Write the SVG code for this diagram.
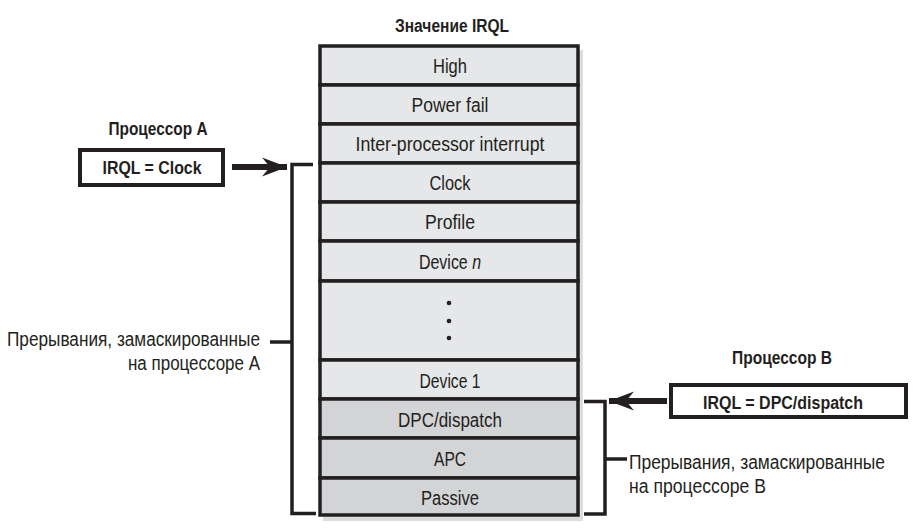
<svg xmlns="http://www.w3.org/2000/svg" width="916" height="529" viewBox="0 0 916 529">
<style>
text{font-family:"Liberation Sans",Arial,sans-serif;fill:#231f20}
.r{font-size:19.5px}
.b{font-size:18px;font-weight:bold}
.c{text-anchor:middle}
.lt{fill:#e6e7e8;stroke:#231f20;stroke-width:3.5}
.dk{fill:#d3d4d5;stroke:#231f20;stroke-width:3.5}
.box{fill:#fff;stroke:#231f20;stroke-width:4}
.br{fill:none;stroke:#231f20;stroke-width:3.5}
.ar{stroke:#231f20;stroke-width:6;fill:none}
</style>
<defs>
<marker id="ah" markerUnits="userSpaceOnUse" markerWidth="30" markerHeight="24" viewBox="-26 -12 30 24" refX="0" refY="0" orient="auto">
<path d="M0,0 L-25,-9.5 L-17,0 L-25,9.5 Z" fill="#231f20"/>
</marker>
</defs>
<text class="b c" x="452" y="32" textLength="114" lengthAdjust="spacingAndGlyphs">Значение IRQL</text>
<rect x="323" y="50" width="260" height="471" fill="#dcdddd"/>
<g id="row-high"><rect class="lt" x="320" y="46" width="258" height="39"/><text class="r c" x="450" y="73" textLength="34" lengthAdjust="spacingAndGlyphs">High</text></g>
<g id="row-powerfail"><rect class="lt" x="320" y="85" width="258" height="39"/><text class="r c" x="450" y="112" textLength="77" lengthAdjust="spacingAndGlyphs">Power fail</text></g>
<g id="row-ipi"><rect class="lt" x="320" y="124" width="258" height="39"/><text class="r c" x="450" y="151" textLength="189" lengthAdjust="spacingAndGlyphs">Inter-processor interrupt</text></g>
<g id="row-clock"><rect class="lt" x="320" y="163" width="258" height="39"/><text class="r c" x="450" y="190" textLength="41" lengthAdjust="spacingAndGlyphs">Clock</text></g>
<g id="row-profile"><rect class="lt" x="320" y="202" width="258" height="39"/><text class="r c" x="450" y="229" textLength="50" lengthAdjust="spacingAndGlyphs">Profile</text></g>
<g id="row-devicen"><rect class="lt" x="320" y="241" width="258" height="40"/><text class="r c" transform="translate(450,269) scale(0.82,1)">Device <tspan font-style="italic">n</tspan></text></g>
<g id="row-dots"><rect class="lt" x="320" y="281" width="258" height="79"/><circle cx="449" cy="303" r="2.3" fill="#231f20"/><circle cx="449" cy="321" r="2.3" fill="#231f20"/><circle cx="449" cy="338" r="2.3" fill="#231f20"/></g>
<g id="row-device1"><rect class="lt" x="320" y="360" width="258" height="39"/><text class="r c" x="450" y="388" textLength="61" lengthAdjust="spacingAndGlyphs">Device 1</text></g>
<g id="row-dpc"><rect class="dk" x="320" y="399" width="258" height="39"/><text class="r c" x="450" y="427" textLength="104" lengthAdjust="spacingAndGlyphs">DPC/dispatch</text></g>
<g id="row-apc"><rect class="dk" x="320" y="438" width="258" height="40"/><text class="r c" x="450" y="466" textLength="32" lengthAdjust="spacingAndGlyphs">APC</text></g>
<g id="row-passive"><rect class="dk" x="320" y="478" width="258" height="37"/><text class="r c" x="450" y="505" textLength="58" lengthAdjust="spacingAndGlyphs">Passive</text></g>
<g id="cpu-a">
<text class="b c" x="158" y="135" textLength="99" lengthAdjust="spacingAndGlyphs">Процессор A</text>
<rect class="box" x="80" y="150" width="143" height="35"/>
<text class="b c" x="152" y="174" textLength="99" lengthAdjust="spacingAndGlyphs">IRQL = Clock</text>
</g>
<g id="cpu-b">
<text class="b c" x="782" y="364" textLength="100" lengthAdjust="spacingAndGlyphs">Процессор B</text>
<rect class="box" x="671" y="385" width="235" height="32"/>
<text class="b c" x="783" y="409" textLength="160" lengthAdjust="spacingAndGlyphs">IRQL = DPC/dispatch</text>
</g>
<g id="label-a">
<text class="r" x="260" y="346" text-anchor="end" textLength="253" lengthAdjust="spacingAndGlyphs">Прерывания, замаскированные</text>
<text class="r" x="260" y="370" text-anchor="end" textLength="132" lengthAdjust="spacingAndGlyphs">на процессоре A</text>
</g>
<g id="label-b">
<text class="r" x="629" y="469" textLength="256" lengthAdjust="spacingAndGlyphs">Прерывания, замаскированные</text>
<text class="r" x="629" y="493" textLength="137" lengthAdjust="spacingAndGlyphs">на процессоре B</text>
</g>
<g id="connectors">
<line class="ar" x1="232" y1="167" x2="287" y2="167" marker-end="url(#ah)"/>
<line class="ar" x1="667" y1="401" x2="609" y2="401" marker-end="url(#ah)"/>
<path class="br" d="M313,164.5 H292 V513.5 H316"/>
<line class="br" x1="270" y1="342" x2="292" y2="342"/>
<path class="br" d="M584,401.5 H605 V514 H584"/>
<line class="br" x1="605" y1="459" x2="627" y2="459"/>
</g>
</svg>
